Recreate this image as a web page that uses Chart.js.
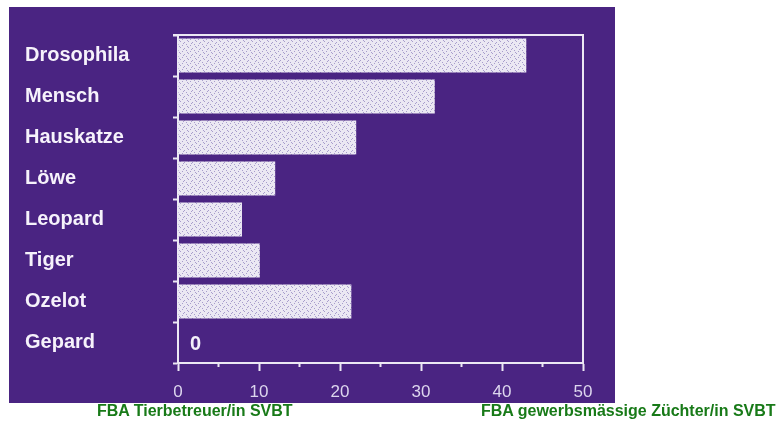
<!DOCTYPE html>
<html>
<head>
<meta charset="utf-8">
<script src="https://cdn.jsdelivr.net/npm/chart.js@4"></script>
<style>
  html, body { margin: 0; padding: 0; background: #ffffff; width: 778px; height: 424px; overflow: hidden; }
  #slide { position: absolute; left: 9px; top: 7px; width: 606px; height: 396px; background: #4a2482; }
  #slide canvas { position: absolute; left: 0; top: 0; }
  .cap { position: absolute; top: 402px; font-family: "Liberation Sans", Arial, sans-serif; font-weight: bold; font-size: 16px; color: #187a18; white-space: nowrap; }
</style>
</head>
<body>
<div id="slide"><canvas id="c" width="606" height="396"></canvas></div>
<div class="cap" style="left:97px">FBA Tierbetreuer/in SVBT</div>
<div class="cap" style="left:481px">FBA gewerbsmässige Züchter/in SVBT</div>
<script>
const categories = ["Drosophila", "Mensch", "Hauskatze", "Löwe", "Leopard", "Tiger", "Ozelot", "Gepard"];
const values = [43, 31.7, 22, 12, 7.9, 10.1, 21.4, 0];
const xMin = 0, xMax = 50, majorStep = 10;
const minorTicks = [5, 15, 25, 35, 45];

const lineColor = "#ece8f4";

// light bar texture
const pc = document.createElement("canvas");
pc.width = 8; pc.height = 6;
const px = pc.getContext("2d");
px.fillStyle = "#ebe8f3"; px.fillRect(0, 0, 8, 6);
px.fillStyle = "#a89dcc";
[[1,1],[5,2],[3,4],[7,5],[2,3],[6,0]].forEach(p => px.fillRect(p[0], p[1], 1, 1));
const barPattern = px.createPattern(pc, "repeat");

const framePlugin = {
  id: "frame",
  afterDraw(chart) {
    const ctx = chart.ctx, a = chart.chartArea, xs = chart.scales.x;
    ctx.save();
    ctx.strokeStyle = lineColor; ctx.lineWidth = 2;
    ctx.beginPath();
    ctx.moveTo(a.left - 5, a.top); ctx.lineTo(a.right, a.top);
    ctx.lineTo(a.right, a.bottom);
    ctx.stroke();
    // minor ticks
    minorTicks.forEach(v => {
      const x = xs.getPixelForValue(v);
      ctx.beginPath(); ctx.moveTo(x, a.bottom); ctx.lineTo(x, a.bottom + 4); ctx.stroke();
    });
    // zero labels
    const meta = chart.getDatasetMeta(0);
    ctx.fillStyle = "#f4f0fa";
    ctx.font = "bold 20px 'Liberation Sans', Arial, sans-serif";
    ctx.textBaseline = "middle"; ctx.textAlign = "left";
    values.forEach((v, i) => {
      if (v === 0) ctx.fillText(String(v), xs.getPixelForValue(0) + 12, meta.data[i].y + 2);
    });
    ctx.restore();
  }
};

new Chart(document.getElementById("c"), {
  type: "bar",
  data: {
    labels: categories,
    datasets: [{ data: values, backgroundColor: barPattern, borderWidth: 0, barPercentage: 0.83, categoryPercentage: 1 }]
  },
  options: {
    indexAxis: "y",
    responsive: false,
    animation: false,
    devicePixelRatio: 1,
    layout: { padding: { left: 16, top: 28, right: 32, bottom: 4 } },
    plugins: { legend: { display: false }, tooltip: { enabled: false } },
    scales: {
      x: {
        min: xMin, max: xMax,
        ticks: { stepSize: majorStep, color: "#ddd6ee", padding: 11, font: { family: "'Liberation Sans', Arial, sans-serif", size: 17 } },
        grid: { drawOnChartArea: false, tickLength: 8, tickColor: lineColor, tickWidth: 2 },
        border: { color: lineColor, width: 2 },
        afterFit(s) { s.height = 36; }
      },
      y: {
        offset: true,
        ticks: { color: "#f6f2fb", crossAlign: "far", padding: 6, font: { family: "'Liberation Sans', Arial, sans-serif", size: 20, weight: "bold" } },
        grid: { offset: true, drawOnChartArea: false, tickLength: 5, tickColor: lineColor, tickWidth: 2 },
        border: { color: lineColor, width: 2 },
        afterFit(s) { s.width = 153; }
      }
    }
  },
  plugins: [framePlugin]
});
</script>
</body>
</html>
